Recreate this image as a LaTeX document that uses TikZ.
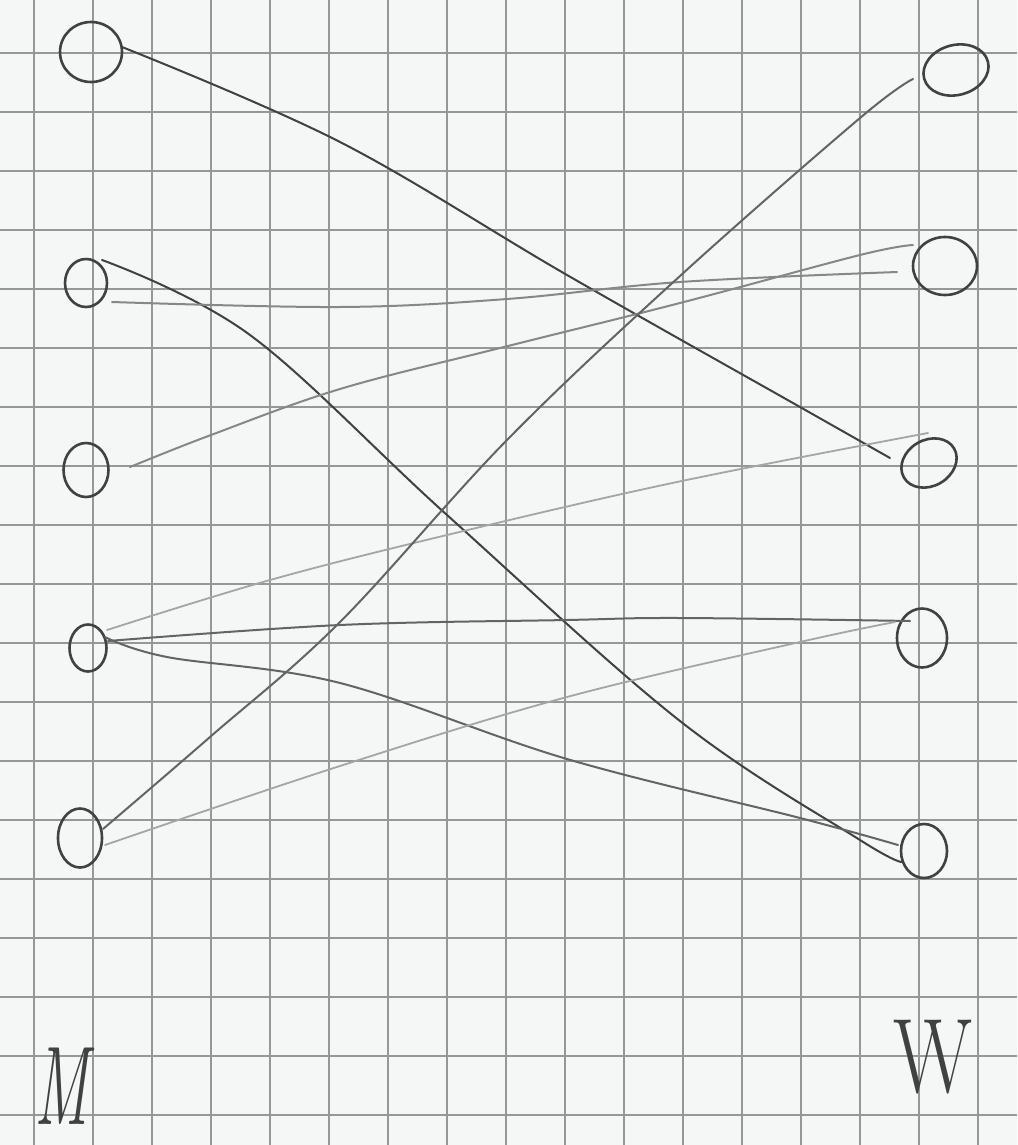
\documentclass[tikz,border=0pt]{standalone}
\usepackage{tikz}
\usetikzlibrary{shapes.geometric,calc}
\definecolor{paper}{RGB}{244,247,246}
\definecolor{gridc}{RGB}{150,152,152}
\definecolor{inkdark}{RGB}{65,65,65}
\definecolor{inkmid}{RGB}{100,100,100}
\definecolor{inksoft}{RGB}{135,135,135}
\definecolor{inklight}{RGB}{165,165,165}
\begin{document}
\begin{tikzpicture}[x=1pt,y=-1pt,
  vert/.style={ellipse, draw=inkdark, line width=2.6pt, inner sep=0pt, fill=none},
  pencil/.style={line width=2pt, line cap=round, line join=round},
  darkline/.style={pencil, draw=inkdark},
  midline/.style={pencil, draw=inkmid},
  softline/.style={pencil, draw=inksoft},
  lightline/.style={pencil, draw=inklight, line width=1.8pt},
  gridline/.style={draw=gridc, line width=1.1pt},
  hand/.style={text=inkdark, inner sep=0pt}]
\fill[paper] (0,0) rectangle (1017,1145);
\useasboundingbox (0,0) rectangle (1017,1145);
% grid
\foreach \k in {0,...,16} \draw[gridline] ({34+59*\k},0) -- ({34+59*\k},1145);
\foreach \k in {0,...,18} \draw[gridline] (0,{53+59*\k}) -- (1017,{53+59*\k});
% left vertices (M)
\node[vert, minimum width=62pt, minimum height=60pt] (L1) at (91,52) {};
\node[vert, minimum width=42pt, minimum height=48pt] (L2) at (86,283) {};
\node[vert, minimum width=45pt, minimum height=54pt] (L3) at (86,470) {};
\node[vert, minimum width=37pt, minimum height=47pt] (L4) at (88,648) {};
\node[vert, minimum width=44pt, minimum height=59pt] (L5) at (80,838) {};
% right vertices (W)
\node[vert, minimum width=66pt, minimum height=50pt, rotate=15] (R1) at (956,70) {};
\node[vert, minimum width=64pt, minimum height=58pt] (R2) at (945,266) {};
\node[vert, minimum width=58pt, minimum height=46pt, rotate=30] (R3) at (929,463) {};
\node[vert, minimum width=50pt, minimum height=59pt] (R4) at (922,638) {};
\node[vert, minimum width=46pt, minimum height=54pt] (R5) at (924,851) {};
% edges
\draw[darkline] plot[smooth, tension=0.6] coordinates {($(L1)+(31,-5)$) (340,142) (567,275) (800,407) ($(R3)+(-39,-5)$)};
\draw[darkline] plot[smooth, tension=0.6] coordinates {($(L2)+(16,-23)$) (250,335) (447,515) (680,721) (860,840) ($(R5)+(-22,11)$)};
\draw[softline] plot[smooth, tension=0.6] coordinates {($(L2)+(26,19)$) (340,307) (507,299) (680,282) ($(R2)+(-48,6)$)};
\draw[softline] plot[smooth, tension=0.6] coordinates {($(L3)+(44,-3)$) (211,435) (340,389) (500,348) (680,303) (860,255) ($(R2)+(-32,-21)$)};
\draw[lightline] plot[smooth, tension=0.6] coordinates {($(L4)+(19,-18)$) (270,580) (447,535) (677,482) ($(R3)+(-1,-30)$)};
\draw[midline] plot[smooth, tension=0.6] coordinates {($(L4)+(20,-7)$) (340,625) (567,620) (680,618) ($(R4)+(-12,-17)$)};
\draw[midline] plot[smooth, tension=0.6] coordinates {($(L4)+(17,-11)$) (167,657) (340,683) (567,759) (800,818) ($(R5)+(-26,-6)$)};
\draw[midline] plot[smooth, tension=0.6] coordinates {($(L5)+(23,-9)$) (210,737) (340,622) (507,440) (680,276) (860,118) ($(R1)+(-43,9)$)};
\draw[lightline] plot[smooth, tension=0.6] coordinates {($(L5)+(25,7)$) (340,766) (567,697) (800,642) ($(R4)+(-27,-16)$)};
% labels
\node[hand, font=\fontsize{112}{112}\selectfont\itshape, xscale=0.55] (lblM) at (62,1086) {M};
\node[hand, font=\fontsize{106}{106}\selectfont, xscale=0.78] (lblW) at (933,1057) {W};
\end{tikzpicture}
\end{document}
